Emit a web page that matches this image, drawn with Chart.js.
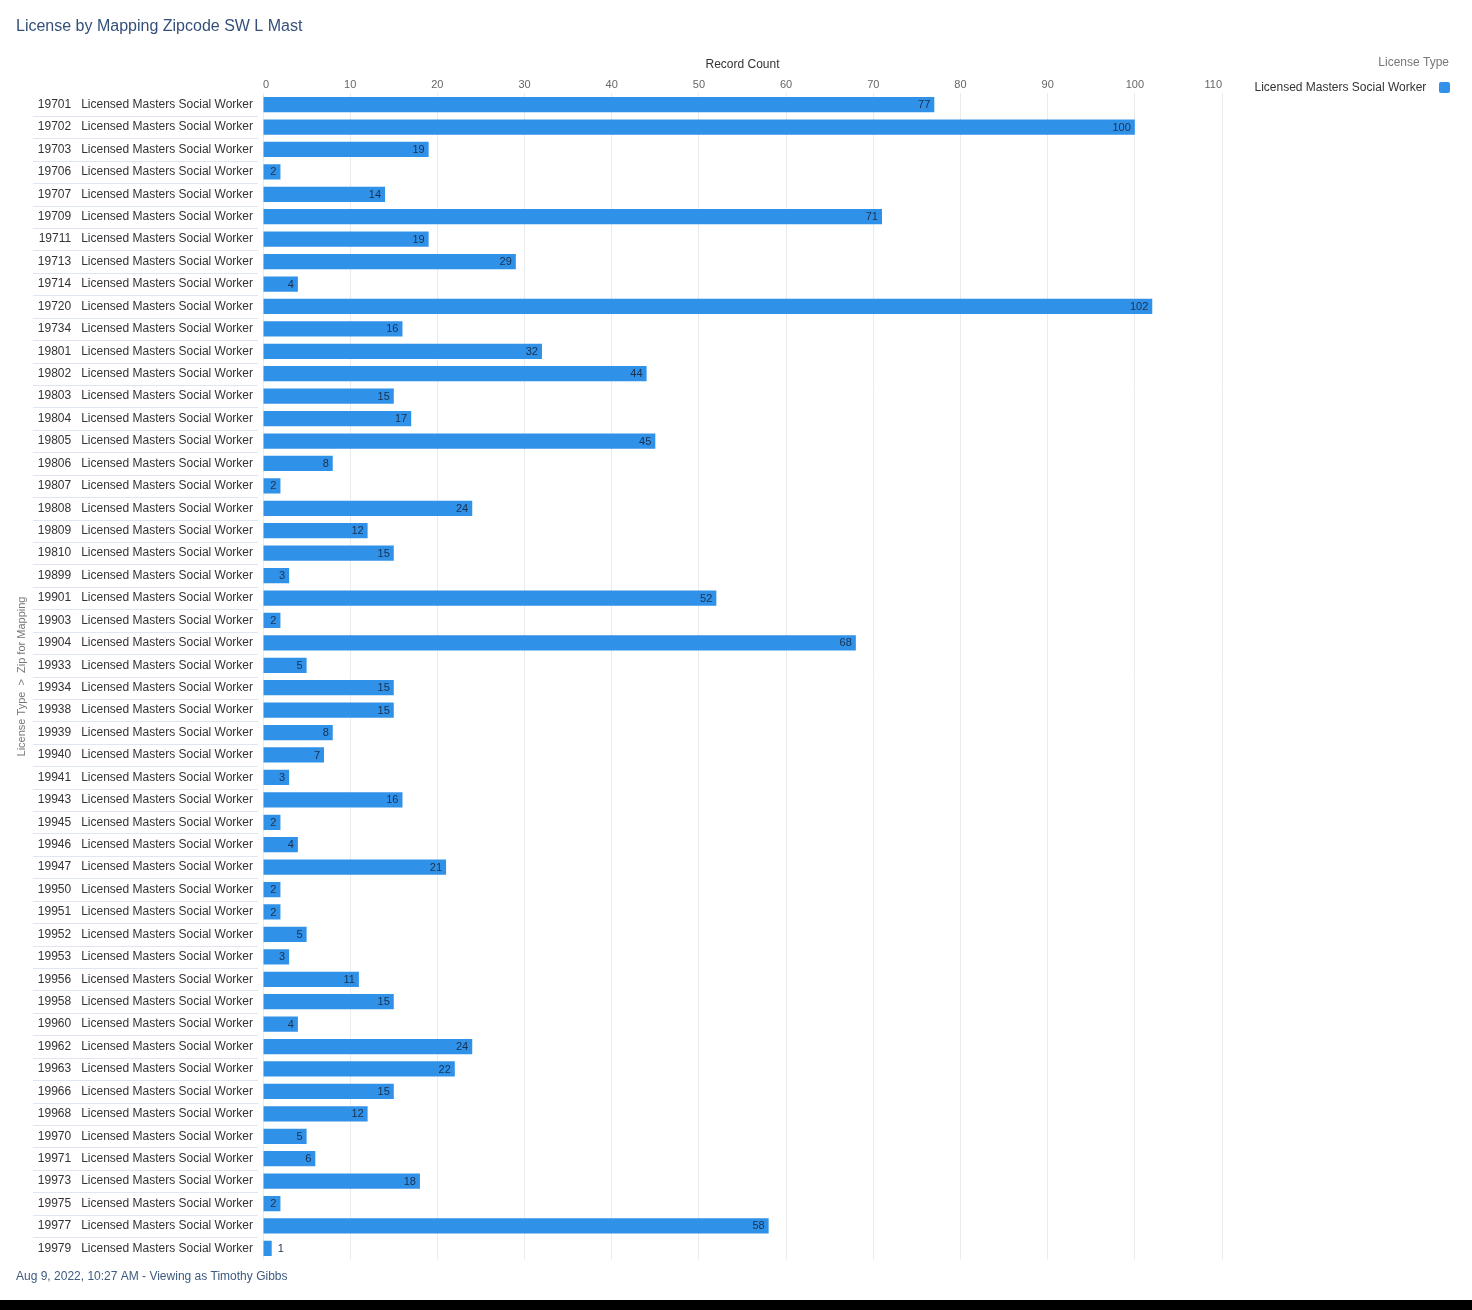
<!DOCTYPE html>
<html>
<head>
<meta charset="utf-8">
<script src="https://cdn.jsdelivr.net/npm/chart.js@4.4.1/dist/chart.umd.min.js"></script>
<style>
  html, body { margin: 0; padding: 0; background: #ffffff; }
  #wrap { position: relative; width: 1472px; height: 1300px; }
  #band { width: 1472px; height: 10px; background: #000; }
</style>
</head>
<body>
<div id="wrap"><canvas id="c"></canvas></div>
<div id="band"></div>
<script>
const zips = ['19701','19702','19703','19706','19707','19709','19711','19713','19714','19720',
  '19734','19801','19802','19803','19804','19805','19806','19807','19808','19809',
  '19810','19899','19901','19903','19904','19933','19934','19938','19939','19940',
  '19941','19943','19945','19946','19947','19950','19951','19952','19953','19956',
  '19958','19960','19962','19963','19966','19968','19970','19971','19973','19975',
  '19977','19979'];
const licenseType = 'Licensed Masters Social Worker';
const recordCounts = [77,100,19,2,14,71,19,29,4,102,
  16,32,44,15,17,45,8,2,24,12,
  15,3,52,2,68,5,15,15,8,7,
  3,16,2,4,21,2,2,5,3,11,
  15,4,24,22,15,12,5,6,18,2,
  58,1];
const xTicks = [0,10,20,30,40,50,60,70,80,90,100,110];
const legendTitle = 'License Type';

const categories = zips.map(z => z + '   ' + licenseType);
const FONT = "'Liberation Sans', Arial, sans-serif";

const LEGEND_WIDTH = 238;

const legendSizer = {
  id: 'legendSizer',
  beforeLayout(chart) {
    const lg = chart.legend;
    if (lg && !lg._sized) {
      const orig = lg.fit;
      lg.fit = function () { orig.call(this); this.width = LEGEND_WIDTH; };
      lg._sized = true;
    }
  },
  afterDraw(chart) {
    const lg = chart.legend;
    if (!lg) return;
    const ctx = chart.ctx;
    ctx.save();
    ctx.font = '12px ' + FONT;
    ctx.fillStyle = '#777777';
    ctx.textAlign = 'right';
    ctx.textBaseline = 'middle';
    ctx.fillText(legendTitle, lg.right - 11, lg.top + 53);
    ctx.restore();
  }
};

const rowLines = {
  id: 'rowLines',
  afterDraw(chart) {
    const y = chart.scales.y, ctx = chart.ctx;
    ctx.save();
    ctx.strokeStyle = '#dfe6ef';
    ctx.lineWidth = 1;
    for (let i = 0; i < categories.length - 1; i++) {
      const py = Math.round((y.getPixelForValue(i) + y.getPixelForValue(i + 1)) / 2) + 0.5;
      ctx.beginPath();
      ctx.moveTo(33, py);
      ctx.lineTo(y.right - 5, py);
      ctx.stroke();
    }
    ctx.restore();
  }
};

const valueLabels = {
  id: 'valueLabels',
  afterDatasetsDraw(chart) {
    const ctx = chart.ctx;
    const meta = chart.getDatasetMeta(0);
    ctx.save();
    ctx.font = '11px ' + FONT;
    ctx.fillStyle = '#1a304d';
    ctx.textBaseline = 'middle';
    meta.data.forEach((bar, i) => {
      const txt = String(recordCounts[i]);
      const w = ctx.measureText(txt).width;
      const len = bar.x - bar.base;
      if (w + 8 <= len) {
        ctx.textAlign = 'right';
        ctx.fillText(txt, bar.x - 4, bar.y + 0.5);
      } else {
        ctx.textAlign = 'left';
        ctx.fillText(txt, bar.x + 6, bar.y + 0.5);
      }
    });
    ctx.restore();
  }
};

new Chart(document.getElementById('c'), {
  type: 'bar',
  data: {
    labels: categories,
    datasets: [{
      label: licenseType,
      data: recordCounts,
      backgroundColor: '#3091e9',
      borderWidth: 0,
      barPercentage: 0.68,
      categoryPercentage: 1.0
    }]
  },
  options: {
    indexAxis: 'y',
    responsive: true,
    maintainAspectRatio: false,
    animation: false,
    layout: { padding: { left: 16, right: 12, top: 10, bottom: 10 } },
    scales: {
      x: {
        position: 'top',
        min: 0,
        max: 110,
        afterBuildTicks(scale) { scale.ticks = xTicks.map(v => ({ value: v })); },
        ticks: {
          align: 'inner',
          padding: 2,
          color: '#666666',
          font: { size: 11, family: FONT }
        },
        grid: { color: '#ebebeb', drawTicks: false },
        border: { display: false },
        title: {
          display: true,
          text: 'Record Count',
          color: '#333333',
          font: { size: 12, family: FONT },
          padding: { top: 17.6, bottom: 4 }
        }
      },
      y: {
        afterFit(scale) { scale.width = 247; },
        ticks: {
          padding: 10,
          color: '#333333',
          font: { size: 12, family: FONT },
          autoSkip: false
        },
        grid: { display: false, drawTicks: false },
        border: { display: false },
        title: {
          display: true,
          text: 'License Type  >  Zip for Mapping',
          color: '#777777',
          font: { size: 11, family: FONT, lineHeight: 1.1 },
          padding: { top: 0, bottom: 0 }
        }
      }
    },
    plugins: {
      title: {
        display: true,
        text: 'License by Mapping Zipcode SW L Mast',
        align: 'start',
        color: '#34507a',
        font: { size: 16, family: FONT, weight: 'normal' },
        padding: { top: 7, bottom: 4 }
      },
      subtitle: {
        display: true,
        position: 'bottom',
        align: 'start',
        text: 'Aug 9, 2022, 10:27 AM - Viewing as Timothy Gibbs',
        color: '#3d5a80',
        font: { size: 12, family: FONT },
        padding: { top: 10, bottom: 6 }
      },
      legend: {
        position: 'right',
        align: 'start',
        rtl: true,
        title: {
          display: true,
          text: legendTitle,
          color: 'rgba(0,0,0,0)',
          font: { size: 12, family: FONT },
          padding: { top: 45, bottom: 2 }
        },
        labels: {
          boxWidth: 11,
          boxHeight: 11,
          useBorderRadius: true,
          borderRadius: 2,
          color: '#333333',
          font: { size: 12, family: FONT },
          padding: 10,
          generateLabels(chart) {
            const items = Chart.defaults.plugins.legend.labels.generateLabels(chart);
            items.forEach(it => { it.text = it.text + '  '; });
            return items;
          }
        }
      },
      tooltip: { enabled: false }
    }
  },
  plugins: [legendSizer, rowLines, valueLabels]
});
</script>
</body>
</html>
